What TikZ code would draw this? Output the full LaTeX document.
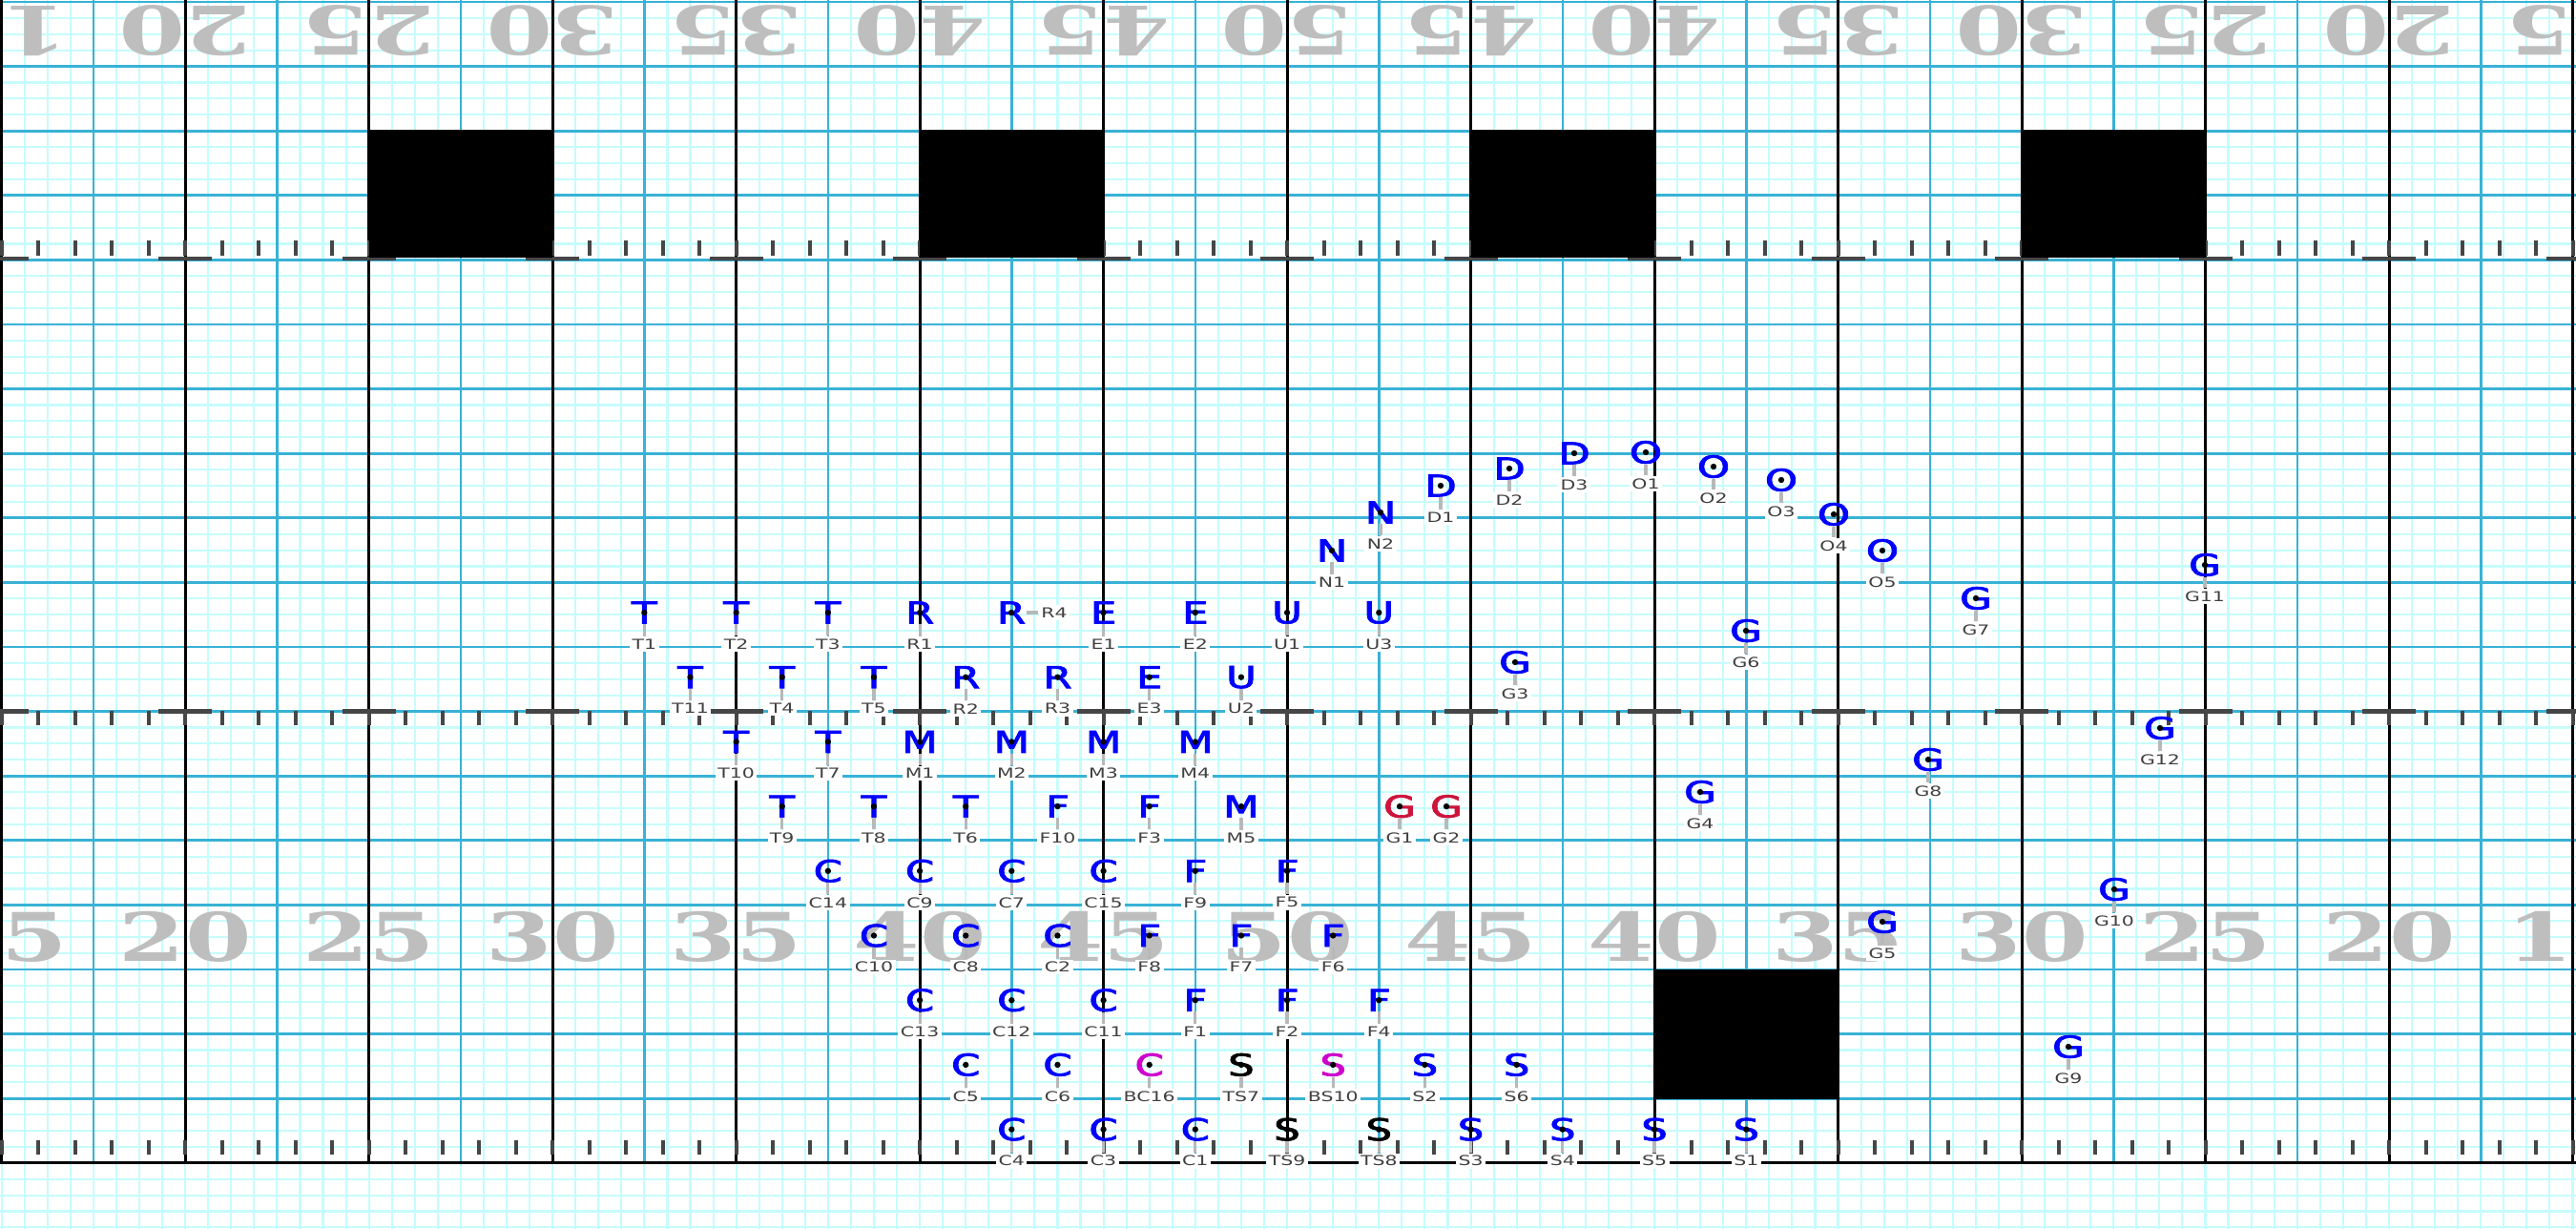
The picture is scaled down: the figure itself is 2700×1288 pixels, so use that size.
\documentclass[tikz,border=0pt]{standalone}
\usepackage{fontspec}
\setmainfont{DejaVu Sans}
\newfontfamily\ydfont{DejaVu Serif}
\newfontfamily\plfont[FakeBold=2]{DejaVu Sans}
\definecolor{gridpale}{RGB}{198,252,252}
\definecolor{gridblue}{RGB}{56,178,214}
\definecolor{hashgray}{RGB}{70,70,70}
\definecolor{ydgray}{RGB}{190,190,190}
\definecolor{plblue}{RGB}{0,0,255}
\definecolor{plred}{RGB}{205,20,60}
\definecolor{plmag}{RGB}{205,0,205}
\tikzset{
  plyr/.style={inner sep=0pt,font=\plfont\fontsize{9}{9}\selectfont},
  plyrdot/.style={circle,fill=black,inner sep=0pt,minimum size=1.8pt},
  plyrtag/.style={fill=white,inner sep=.7pt,text=black!75,font=\fontsize{4.1}{4.1}\selectfont},
  tagline/.style={draw=black!28,line width=.9pt},
  ydnum/.style={inner sep=0pt,text=ydgray,font=\ydfont\bfseries\fontsize{20}{20}\selectfont},
}
\newcommand{\player}[5][plblue]{
  \node[plyr,text=#1] (#2) at (#4,#5) {\scalebox{1.38}[1]{#3}};
  \node[plyrdot] (#2d) at (#2.center) {};
  \node[plyrtag] (#2t) at (#4,#5+33) {\scalebox{1.42}[1]{#2}};
  \draw[tagline] (#2) -- (#2t);
}
\begin{document}
\begin{tikzpicture}[x=0.01cm,y=-0.01cm]
  \path[use as bounding box,clip] (0,0) rectangle (2700,1288);
  \fill[white] (0,0) rectangle (2700,1288);
  % grid
  \begin{scope}[line width=.6pt]
    \foreach \i in {0,...,112} \draw[gridpale] (1.7+24.06*\i,0) -- (1.7+24.06*\i,1288);
    \foreach \j in {0,...,76} \draw[gridpale] (0,2+16.9*\j) -- (2700,2+16.9*\j);
  \end{scope}
  \begin{scope}[line width=.75pt]
    \foreach \j in {0,...,17} \draw[gridblue] (0,2+67.6*\j) -- (2700,2+67.6*\j);
    \foreach \k in {1,3,...,27} \draw[gridblue] (1.7+96.25*\k,0) -- (1.7+96.25*\k,1218);
    \foreach \k in {0,2,...,28} \draw[black] (1.7+96.25*\k,0) -- (1.7+96.25*\k,1218);
    \draw[black] (0,1218.8) -- (2700,1218.8);
  \end{scope}
  % yard numbers
  \foreach \k/\yd in {0/15,2/20,4/25,6/30,8/35,10/40,12/45,14/50,16/45,18/40,20/35,22/30,24/25,26/20,28/15} {
    \node[ydnum] (low\k) at (1.7+96.25*\k,982) {\scalebox{1.42}[1]{\yd}};
    \node[ydnum,rotate=180] (up\k) at (1.7+96.25*\k,32) {\scalebox{1.42}[1]{\yd}};
  }
  % hash marks
  \begin{scope}[draw=hashgray,line width=1.2pt]
    \foreach \i in {0,...,70} {
      \draw (1.7+38.5*\i,252) -- (1.7+38.5*\i,268);
      \draw (1.7+38.5*\i,745) -- (1.7+38.5*\i,760);
      \draw (1.7+38.5*\i,1195) -- (1.7+38.5*\i,1210);
    }
    \foreach \k in {0,2,...,28} {
      \draw (1.7+96.25*\k-28,271) -- (1.7+96.25*\k+28,271);
      \draw (1.7+96.25*\k-28,745.6) -- (1.7+96.25*\k+28,745.6);
    }
  \end{scope}
  % black boxes
  \foreach \k in {4,10,16,22} \fill[black] (1.7+96.25*\k,136) rectangle (1.7+96.25*\k+192.5,270);
  \fill[black] (1734,1016) rectangle (1926.5,1152);
  % rows of players
  \foreach \nm/\ltr/\uu in {T1/T/28,T2/T/32,T3/T/36,R1/R/40,E1/E/48,E2/E/52,U1/U/56,U3/U/60}
    \player{\nm}{\ltr}{1.7+24.06*\uu}{642};
  \foreach \nm/\ltr/\uu in {T11/T/30,T4/T/34,T5/T/38,R2/R/42,R3/R/46,E3/E/50,U2/U/54}
    \player{\nm}{\ltr}{1.7+24.06*\uu}{709.7};
  \foreach \nm/\ltr/\uu in {T10/T/32,T7/T/36,M1/M/40,M2/M/44,M3/M/48,M4/M/52}
    \player{\nm}{\ltr}{1.7+24.06*\uu}{777.4};
  \foreach \nm/\ltr/\uu in {T9/T/34,T8/T/38,T6/T/42,F10/F/46,F3/F/50,M5/M/54}
    \player{\nm}{\ltr}{1.7+24.06*\uu}{845.1};
  \foreach \nm/\ltr/\uu in {C14/C/36,C9/C/40,C7/C/44,C15/C/48,F9/F/52,F5/F/56}
    \player{\nm}{\ltr}{1.7+24.06*\uu}{912.8};
  \foreach \nm/\ltr/\uu in {C10/C/38,C8/C/42,C2/C/46,F8/F/50,F7/F/54,F6/F/58}
    \player{\nm}{\ltr}{1.7+24.06*\uu}{980.5};
  \foreach \nm/\ltr/\uu in {C13/C/40,C12/C/44,C11/C/48,F1/F/52,F2/F/56,F4/F/60}
    \player{\nm}{\ltr}{1.7+24.06*\uu}{1048.2};
  \foreach \nm/\ltr/\uu in {C5/C/42,C6/C/46,S2/S/62,S6/S/66}
    \player{\nm}{\ltr}{1.7+24.06*\uu}{1115.9};
  \foreach \nm/\ltr/\uu in {C4/C/44,C3/C/48,C1/C/52,S3/S/64,S4/S/68,S5/S/72,S1/S/76}
    \player{\nm}{\ltr}{1.7+24.06*\uu}{1183.6};
  % special colours
  \player[plmag]{BC16}{C}{1204.7}{1115.9}
  \player[black]{TS7}{S}{1300.9}{1115.9}
  \player[plmag]{BS10}{S}{1397.2}{1115.9}
  \player[black]{TS9}{S}{1349}{1183.6}
  \player[black]{TS8}{S}{1445.3}{1183.6}
  \player[plred]{G1}{G}{1467}{845.1}
  \player[plred]{G2}{G}{1516}{845.1}
  % the curve and the loose ones
  \foreach \nm/\ltr/\xx/\yy in {N1/N/1396/577,N2/N/1447/537,D1/D/1510/509,D2/D/1582/491,D3/D/1650/475,
    O1/O/1725/474,O2/O/1796/489,O3/O/1867/503,O4/O/1922/539,O5/O/1973/577,
    G3/G/1588/694,G6/G/1830/661,G7/G/2071/627,G11/G/2311/592,G12/G/2264/763,
    G8/G/2021/796,G4/G/1782/830,G5/G/1973/966,G10/G/2216/932,G9/G/2168/1097}
    \player{\nm}{\ltr}{\xx}{\yy};
  % R4 has its tag at the side
  \node[plyr,text=plblue] (R4) at (1060,642) {\scalebox{1.38}[1]{R}};
  \node[plyrdot] (R4d) at (R4.center) {};
  \node[plyrtag] (R4t) at (1105,642) {\scalebox{1.42}[1]{R4}};
  \draw[tagline] (R4) -- (R4t);
\end{tikzpicture}
\end{document}
